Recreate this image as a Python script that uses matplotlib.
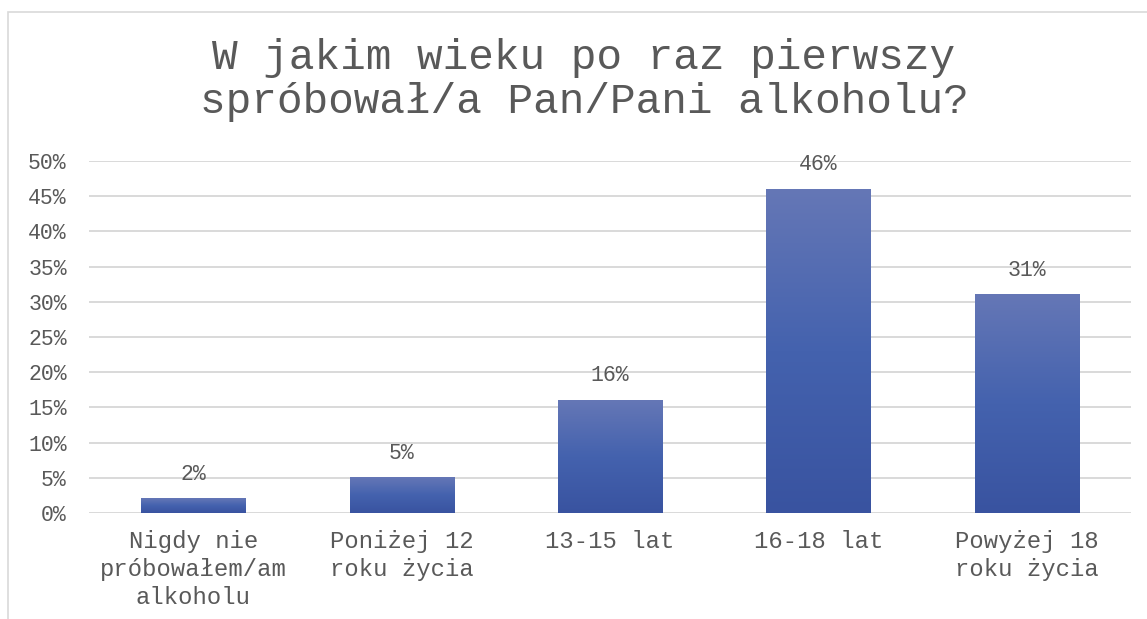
import numpy as np
import matplotlib.pyplot as plt
from matplotlib.patches import Rectangle
from matplotlib.colors import LinearSegmentedColormap

categories = ['Nigdy nie\npróbowałem/am\nalkoholu', 'Poniżej 12\nroku życia',
              '13-15 lat', '16-18 lat', 'Powyżej 18\nroku życia']
values = [2, 5, 16, 46, 31]
yticks = [0, 5, 10, 15, 20, 25, 30, 35, 40, 45, 50]
title = 'W jakim wieku po raz pierwszy\nspróbował/a Pan/Pani alkoholu?'

plt.rcParams['font.family'] = ['Liberation Mono', 'DejaVu Sans Mono']
txt = '#595959'

fig = plt.figure(figsize=(11.47, 6.19), dpi=100)
fig.patches.append(Rectangle((8 / 1147, -0.1), 1.2, 1 - 12 / 619 + 0.1,
                             transform=fig.transFigure, fill=False,
                             edgecolor='#d9d9d9', linewidth=1.2))

ax = fig.add_axes([89 / 1147, 1 - 513 / 619, (1131 - 89) / 1147, (513 - 161) / 619])
x = np.arange(len(categories))
w = 0.5

cmap = LinearSegmentedColormap.from_list('bar', ['#3953a0', '#4462ae', '#6577b6'])
grad = np.linspace(0, 1, 256).reshape(-1, 1)
for xi, v in zip(x, values):
    ax.imshow(grad, extent=[xi - w / 2, xi + w / 2, 0, v], origin='lower',
              aspect='auto', cmap=cmap, zorder=3)
    ax.text(xi, v + 2.0, f'{v}%', ha='center', va='bottom', fontsize=15.5, color=txt)

ax.set_xlim(-0.5, len(categories) - 0.5)
ax.set_ylim(0, 50)
ax.set_yticks(yticks)
ax.set_yticklabels([f'{t}%' for t in yticks])
ax.set_xticks(x)
ax.set_xticklabels(categories, linespacing=1.3)
ax.tick_params(axis='y', length=0, pad=16, labelsize=15.5, labelcolor=txt)
ax.tick_params(axis='x', length=0, pad=12, labelsize=17.2, labelcolor=txt)
ax.grid(axis='y', color='#d9d9d9', linewidth=1.4, zorder=0)
ax.set_axisbelow(True)
for s in ax.spines.values():
    s.set_visible(False)

fig.text(584 / 1147, 1 - 80 / 619, title, ha='center', va='center',
         fontsize=30.8, color=txt, linespacing=1.15)

fig.savefig('out.png', dpi=100)
